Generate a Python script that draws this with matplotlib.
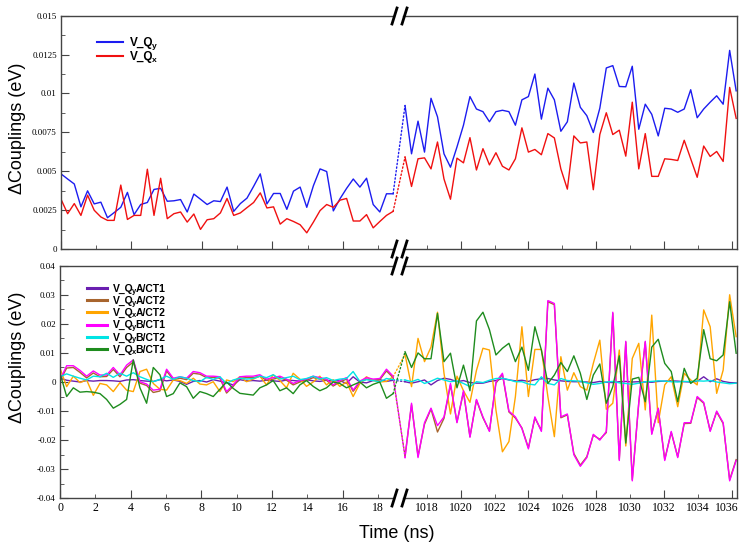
import numpy as np
import matplotlib
matplotlib.use("Agg")
import matplotlib.pyplot as plt
from matplotlib.patches import ConnectionPatch
from matplotlib.lines import Line2D
from matplotlib.ticker import FuncFormatter, MultipleLocator
from matplotlib.transforms import ScaledTranslation

# tick labels are serif, everything else is given a sans family explicitly
plt.rcParams['font.family'] = ['Liberation Serif', 'DejaVu Serif']

# time (ns) of the two pieces of the trajectory
t_early = np.linspace(0.0, 18.85, 51)
t_late = np.linspace(1016.72, 1036.25, 52)

early_major = [0, 4, 8, 12, 16]
early_minor = [2, 6, 10, 14, 18]
late_major = [1020, 1024, 1028, 1032, 1036]
late_minor = [1018, 1022, 1026, 1030, 1034]

# ---- top panel: V_Qy, V_Qx
qy_early = [0.00483, 0.00450, 0.00418, 0.00271, 0.00374, 0.00290, 0.00301, 0.00201, 0.00234, 0.00268,
            0.00364, 0.00221, 0.00286, 0.00299, 0.00383, 0.00390, 0.00307, 0.00310, 0.00318, 0.00238,
            0.00353, 0.00320, 0.00286, 0.00310, 0.00305, 0.00398, 0.00242, 0.00292, 0.00327, 0.00403,
            0.00483, 0.00290, 0.00357, 0.00357, 0.00255, 0.00372, 0.00398, 0.00268, 0.00407, 0.00515,
            0.00498, 0.00245, 0.00323, 0.00390, 0.00450, 0.00398, 0.00455, 0.00286, 0.00238, 0.00355,
            0.00355]
qx_early = [0.00320, 0.00227, 0.00292, 0.00216, 0.00346, 0.00249, 0.00206, 0.00184, 0.00184, 0.00411,
            0.00190, 0.00216, 0.00216, 0.00513, 0.00216, 0.00455, 0.00195, 0.00227, 0.00238, 0.00173,
            0.00225, 0.00126, 0.00188, 0.00195, 0.00232, 0.00325, 0.00216, 0.00232, 0.00266, 0.00299,
            0.00361, 0.00264, 0.00271, 0.00160, 0.00195, 0.00177, 0.00156, 0.00104, 0.00173, 0.00247,
            0.00286, 0.00268, 0.00314, 0.00325, 0.00180, 0.00180, 0.00221, 0.00136, 0.00177, 0.00216,
            0.00242]
qy_late = [0.00922, 0.00612, 0.00822, 0.00623, 0.00969, 0.00850, 0.00612, 0.00526, 0.00656, 0.00796,
           0.00980, 0.00900, 0.00883, 0.00818, 0.00883, 0.00892, 0.00883, 0.00796, 0.00959, 0.00980,
           0.01125, 0.00835, 0.01034, 0.00959, 0.00757, 0.00818, 0.01067, 0.00911, 0.00857, 0.00749,
           0.00905, 0.01164, 0.01179, 0.01045, 0.01043, 0.01175, 0.00770, 0.00931, 0.00866, 0.00727,
           0.00905, 0.00900, 0.00879, 0.00900, 0.01024, 0.00844, 0.00900, 0.00944, 0.00985, 0.00931,
           0.01277, 0.01017]
qx_late = [0.00591, 0.00402, 0.00580, 0.00586, 0.00515, 0.00688, 0.00450, 0.00320, 0.00584, 0.00554,
           0.00716, 0.00508, 0.00645, 0.00541, 0.00619, 0.00532, 0.00508, 0.00580, 0.00779, 0.00623,
           0.00640, 0.00606, 0.00742, 0.00714, 0.00515, 0.00385, 0.00727, 0.00682, 0.00688, 0.00381,
           0.00736, 0.00876, 0.00736, 0.00764, 0.00597, 0.00944, 0.00515, 0.00742, 0.00467, 0.00467,
           0.00580, 0.00576, 0.00569, 0.00699, 0.00580, 0.00461, 0.00662, 0.00595, 0.00627, 0.00563,
           0.01039, 0.00840]

# ---- bottom panel: couplings to the CT states
qyA_ct1_early = [0.0013, 0.0006, 0.0003, 0.0000, 0.0005, 0.0003, 0.0005, 0.0005, 0.0004, 0.0002,
                 0.0007, 0.0008, 0.0005, 0.0003, 0.0002, 0.0008, 0.0004, 0.0007, 0.0002, -0.0008,
                 0.0002, 0.0005, 0.0000, 0.0008, 0.0003, -0.0003, -0.0010, 0.0008, 0.0004, 0.0005,
                 0.0003, 0.0006, 0.0004, 0.0002, 0.0007, 0.0005, 0.0003, 0.0008, 0.0004, 0.0002,
                 0.0006, 0.0003, 0.0005, -0.0005, 0.0018, 0.0000, -0.0003, 0.0005, 0.0008, 0.0002,
                 0.0006]
qyA_ct2_early = [0.0004, 0.0048, 0.0050, 0.0033, 0.0014, 0.0031, 0.0018, 0.0019, 0.0043, 0.0018,
                 0.0050, 0.0069, -0.0004, -0.0012, -0.0036, -0.0031, 0.0038, 0.0008, 0.0013, 0.0008,
                 0.0030, 0.0027, 0.0015, 0.0016, 0.0013, -0.0038, -0.0015, 0.0013, 0.0015, 0.0015,
                 0.0020, 0.0006, 0.0010, 0.0015, 0.0006, -0.0010, 0.0000, 0.0006, 0.0015, 0.0010,
                 0.0006, -0.0014, 0.0000, 0.0010, -0.0032, -0.0002, 0.0010, 0.0006, 0.0008, 0.0038,
                 0.0015]
qxA_ct2_early = [0.0047, -0.0016, 0.0020, -0.0002, 0.0007, -0.0046, -0.0005, -0.0010, -0.0033, -0.0002,
                 -0.0028, -0.0033, 0.0036, 0.0044, -0.0005, -0.0025, -0.0028, 0.0007, 0.0005, -0.0005,
                 0.0013, -0.0007, -0.0010, 0.0001, -0.0033, 0.0007, 0.0001, 0.0018, 0.0001, 0.0010,
                 0.0020, -0.0010, 0.0025, 0.0005, -0.0020, 0.0030, 0.0010, -0.0015, 0.0000, 0.0020,
                 -0.0010, 0.0008, -0.0015, 0.0000, -0.0050, -0.0005, 0.0018, 0.0005, 0.0000, 0.0002,
                 0.0018]
qyB_ct1_early = [0.0007, 0.0056, 0.0056, 0.0040, 0.0020, 0.0038, 0.0024, 0.0024, 0.0050, 0.0024,
                 0.0058, 0.0076, 0.0001, -0.0007, -0.0028, -0.0025, 0.0044, 0.0013, 0.0018, 0.0013,
                 0.0036, 0.0032, 0.0020, 0.0020, 0.0018, -0.0033, -0.0010, 0.0018, 0.0020, 0.0020,
                 0.0025, 0.0010, 0.0015, 0.0020, 0.0010, -0.0005, 0.0005, 0.0010, 0.0020, 0.0015,
                 0.0010, -0.0010, 0.0005, 0.0015, -0.0028, 0.0003, 0.0015, 0.0010, 0.0012, 0.0044,
                 0.0020]
qyB_ct2_early = [0.0018, 0.0028, 0.0020, 0.0013, 0.0007, 0.0020, 0.0018, 0.0030, 0.0016, 0.0030,
                 0.0020, 0.0032, 0.0018, 0.0009, 0.0001, 0.0009, 0.0020, 0.0009, 0.0018, 0.0013,
                 0.0005, 0.0001, 0.0016, 0.0009, 0.0018, -0.0005, 0.0007, 0.0013, 0.0010, 0.0012,
                 0.0020, 0.0015, 0.0025, 0.0010, 0.0015, 0.0020, 0.0008, 0.0012, 0.0020, 0.0010,
                 0.0015, 0.0005, 0.0010, 0.0012, 0.0036, 0.0002, 0.0008, 0.0005, 0.0000, 0.0012,
                 0.0008]
qxB_ct1_early = [0.0030, -0.0050, -0.0020, -0.0035, -0.0033, -0.0035, -0.0040, -0.0060, -0.0090, -0.0077,
                 -0.0060, 0.0076, -0.0020, -0.0073, 0.0050, 0.0025, -0.0050, -0.0040, -0.0003, -0.0016,
                 -0.0056, -0.0033, -0.0040, -0.0050, -0.0025, 0.0000, -0.0022, -0.0039, -0.0042, -0.0045,
                 -0.0020, -0.0010, 0.0005, -0.0030, -0.0020, -0.0040, -0.0010, 0.0005, -0.0015, -0.0030,
                 -0.0020, 0.0000, -0.0005, -0.0020, -0.0010, 0.0000, -0.0020, -0.0008, 0.0000, -0.0056,
                 -0.0040]

qyA_ct1_late = [0.0001, -0.0004, 0.0001, 0.0007, -0.0010, 0.0005, 0.0013, 0.0009, 0.0001, 0.0005,
                -0.0002, -0.0004, -0.0004, 0.0002, 0.0005, 0.0012, 0.0007, 0.0004, 0.0006, 0.0002,
                0.0008, 0.0011, 0.0012, 0.0007, 0.0004, 0.0002, 0.0001, 0.0001, 0.0000, -0.0002,
                0.0002, -0.0001, -0.0002, 0.0001, 0.0002, 0.0000, 0.0001, 0.0000, -0.0001, 0.0002,
                0.0003, 0.0004, 0.0003, 0.0001, 0.0000, 0.0002, 0.0018, 0.0001, 0.0011, 0.0002,
                -0.0002, -0.0003]
qyA_ct2_late = [-0.0255, -0.0078, -0.0255, -0.0145, -0.0093, -0.0172, -0.0125, -0.0010, -0.0138, -0.0035,
                -0.0188, -0.0062, -0.0123, -0.0168, -0.0004, 0.0026, -0.0103, -0.0124, -0.0158, -0.0226,
                -0.0124, -0.0166, 0.0276, 0.0266, -0.0123, -0.0113, -0.0246, -0.0286, -0.0257, -0.0183,
                -0.0197, -0.0174, 0.0236, -0.0266, 0.0137, -0.0336, -0.0073, 0.0137, -0.0177, -0.0093,
                -0.0266, -0.0173, -0.0257, -0.0143, -0.0142, -0.0053, -0.0073, -0.0167, -0.0103, -0.0143,
                -0.0336, -0.0267]
qxA_ct2_late = [0.0095, -0.0016, 0.0150, 0.0070, 0.0120, 0.0240, 0.0030, -0.0110, 0.0020, -0.0030,
                -0.0070, 0.0040, 0.0116, 0.0110, -0.0096, -0.0240, -0.0205, -0.0050, 0.0190, -0.0050,
                0.0112, 0.0112, -0.0050, -0.0188, 0.0087, -0.0028, 0.0032, -0.0016, -0.0028, 0.0064,
                0.0144, -0.0094, -0.0073, 0.0110, -0.0220, 0.0081, 0.0133, -0.0096, 0.0230, -0.0140,
                -0.0010, 0.0018, -0.0085, 0.0030, 0.0007, -0.0010, 0.0248, 0.0190, -0.0039, 0.0041,
                0.0300, 0.0156]
qyB_ct1_late = [-0.0260, -0.0073, -0.0260, -0.0140, -0.0090, -0.0150, -0.0120, -0.0005, -0.0140, -0.0030,
                -0.0190, -0.0060, -0.0120, -0.0170, 0.0000, 0.0030, -0.0100, -0.0120, -0.0160, -0.0230,
                -0.0120, -0.0170, 0.0280, 0.0270, -0.0120, -0.0110, -0.0250, -0.0290, -0.0260, -0.0180,
                -0.0200, -0.0170, 0.0240, -0.0270, 0.0140, -0.0340, -0.0070, 0.0140, -0.0180, -0.0090,
                -0.0270, -0.0170, -0.0260, -0.0140, -0.0140, -0.0050, -0.0070, -0.0170, -0.0100, -0.0140,
                -0.0340, -0.0270]
qyB_ct2_late = [0.0007, 0.0001, 0.0009, -0.0005, 0.0003, 0.0013, 0.0007, 0.0001, 0.0004, -0.0005,
                -0.0016, 0.0001, -0.0002, 0.0006, 0.0012, 0.0013, 0.0008, 0.0001, 0.0001, -0.0007,
                -0.0010, 0.0018, -0.0005, -0.0010, 0.0012, 0.0005, 0.0004, 0.0003, -0.0003, -0.0008,
                -0.0005, 0.0000, 0.0002, -0.0003, -0.0005, -0.0008, -0.0004, 0.0001, 0.0002, 0.0004,
                0.0003, 0.0001, 0.0000, 0.0002, 0.0001, 0.0004, 0.0003, 0.0005, 0.0000, -0.0003,
                -0.0006, -0.0004]
qxB_ct1_late = [0.0104, 0.0050, 0.0100, 0.0080, 0.0080, 0.0236, 0.0070, 0.0099, -0.0020, 0.0058,
                -0.0030, 0.0210, 0.0240, 0.0180, 0.0093, 0.0116, 0.0133, 0.0070, 0.0120, 0.0040,
                0.0190, 0.0110, -0.0005, 0.0024, 0.0067, 0.0036, 0.0090, 0.0030, -0.0060, 0.0024,
                0.0062, -0.0073, -0.0016, 0.0090, -0.0210, 0.0010, 0.0016, -0.0068, 0.0120, 0.0147,
                0.0064, 0.0036, -0.0068, 0.0047, -0.0005, 0.0013, 0.0180, 0.0080, 0.0073, 0.0093,
                0.0276, 0.0099]

# legend labels: "V_Q" + subscript + rest
top_subs = ['y', 'x']
top_rest = ['', '']
top_colors = ['#1c1cf0', '#f01010']
bot_subs = ['y', 'y', 'x', 'y', 'y', 'x']
bot_rest = ['A/CT1', 'A/CT2', 'A/CT2', 'B/CT1', 'B/CT2', 'B/CT1']
bot_colors = ['#6a1fb0', '#a8652e', '#ffa500', '#ff00ff', '#00e4e4', '#1e8c1e']

W, H = 739, 545
fig = plt.figure(figsize=(W / 100, H / 100), dpi=100)


def rect(x0, y0, x1, y1):
    # pixel box (top-left origin) -> figure fraction
    return [x0 / W, 1 - y1 / H, (x1 - x0) / W, (y1 - y0) / H]


ax_tl = fig.add_axes(rect(61, 15.7, 394, 249))
ax_tr = fig.add_axes(rect(403, 15.7, 737, 249))
ax_bl = fig.add_axes(rect(60, 265.7, 394, 498.3))
ax_br = fig.add_axes(rect(403, 265.7, 737, 498.3))

fmt = FuncFormatter(lambda v, p: '%g' % v)


def style_pair(axl, axr, ylim, ystep, show_x):
    for ax in (axl, axr):
        ax.set_ylim(*ylim)
        for sp in ax.spines.values():
            sp.set_color('#444444')
            sp.set_linewidth(1.0)
        ax.tick_params(which='both', direction='in', color='#444444',
                       top=False, right=False, labelsize=8.5, pad=3)
        ax.tick_params(which='major', length=6)
        ax.tick_params(which='minor', length=3)
    axl.spines['right'].set_visible(False)
    axr.spines['left'].set_visible(False)
    axr.tick_params(axis='y', which='both', left=False, labelleft=False)
    axl.yaxis.set_major_locator(MultipleLocator(ystep))
    axl.yaxis.set_minor_locator(MultipleLocator(ystep / 2))
    axl.yaxis.set_major_formatter(fmt)
    axl.tick_params(axis='y', labelsize=6.5)

    axl.set_xlim(0, 18.9)
    axr.set_xlim(1016.6, 1036.3)
    if show_x:
        axl.set_xticks(early_major, labels=[str(v) for v in early_major])
        axl.set_xticks(early_minor, labels=[str(v) for v in early_minor], minor=True)
        axr.set_xticks(late_major, labels=[str(v) for v in late_major])
        axr.set_xticks(late_minor, labels=[str(v) for v in late_minor], minor=True)
    else:
        axl.set_xticks(early_major)
        axl.set_xticks(early_minor, minor=True)
        axr.set_xticks(late_major)
        axr.set_xticks(late_minor, minor=True)
        for ax in (axl, axr):
            ax.tick_params(axis='x', which='both', labelbottom=False)


style_pair(ax_tl, ax_tr, (0, 0.015), 0.0025, False)
style_pair(ax_bl, ax_br, (-0.04, 0.04), 0.01, True)

# keep the last label ("1036") inside the picture
last = ax_br.xaxis.get_major_ticks()[-1].label1
last.set_transform(last.get_transform() + ScaledTranslation(-0.05, 0, fig.dpi_scale_trans))


def draw_series(axl, axr, early, late, color):
    axl.plot(t_early, early, color=color, lw=1.0)
    axr.plot(t_late, late, color=color, lw=1.0)
    # dotted jump across the break
    con = ConnectionPatch(xyA=(t_early[-1], early[-1]), coordsA=axl.transData,
                          xyB=(t_late[0], late[0]), coordsB=axr.transData,
                          color=color, linestyle=':', lw=1.0)
    fig.add_artist(con)


for e, l, c in zip([qy_early, qx_early], [qy_late, qx_late], top_colors):
    draw_series(ax_tl, ax_tr, e, l, c)

bot_early = [qyA_ct1_early, qyA_ct2_early, qxA_ct2_early, qyB_ct1_early, qyB_ct2_early, qxB_ct1_early]
bot_late = [qyA_ct1_late, qyA_ct2_late, qxA_ct2_late, qyB_ct1_late, qyB_ct2_late, qxB_ct1_late]
for e, l, c in zip(bot_early, bot_late, bot_colors):
    draw_series(ax_bl, ax_br, e, l, c)


def legend_rows(ax, subs, rests, colors, x0, x1, xt, y0, pitch, fs, lw):
    # hand-made legend so the rows can sit as tight as in the original
    font = dict(family='Liberation Sans', weight='bold')
    for i, (sub, rest, c) in enumerate(zip(subs, rests, colors)):
        y = y0 + i * pitch
        fig.add_artist(Line2D([x0 / W, x1 / W], [1 - y / H, 1 - y / H], color=c, lw=lw))
        base = y + 0.36 * fs * 100 / 72
        t1 = fig.text(xt / W, 1 - base / H, 'V_Q', va='baseline', ha='left', size=fs, **font)
        t2 = ax.annotate(sub, xy=(1, 0), xycoords=t1, xytext=(-0.9, -0.5),
                         textcoords='offset points', va='bottom', ha='left',
                         size=fs * 0.72, **font)
        if rest:
            ax.annotate(rest, xy=(1, 0), xycoords=(t2, t1), xytext=(-0.6, 0),
                        textcoords='offset points', va='bottom', ha='left', size=fs, **font)


legend_rows(ax_tl, top_subs, top_rest, top_colors, 97, 123, 130, 42, 13.6, 8.5, 1.5)
legend_rows(ax_bl, bot_subs, bot_rest, bot_colors, 87, 107, 113, 288, 12.2, 7.5, 2.2)

# axis titles
fig.text(18 / W, 1 - 128 / H, '\u0394Couplings (eV)', rotation=90, ha='center', va='center',
         family='Liberation Sans', size=13)
fig.text(18 / W, 1 - 357 / H, '\u0394Couplings (eV)', rotation=90, ha='center', va='center',
         family='Liberation Sans', size=13)
fig.text(397 / W, 1 - 533 / H, 'Time (ns)', ha='center', va='center',
         family='Liberation Sans', size=13)

# "//" break marks on the horizontal spines
for yb in [16, 249, 266, 498]:
    for xc in [394.5, 404.5]:
        fig.add_artist(Line2D([(xc - 2.5) / W, (xc + 2.5) / W],
                              [1 - (yb + 8) / H, 1 - (yb - 8) / H],
                              transform=fig.transFigure, color='black', lw=2.0))

fig.savefig('out.png', dpi=100)
